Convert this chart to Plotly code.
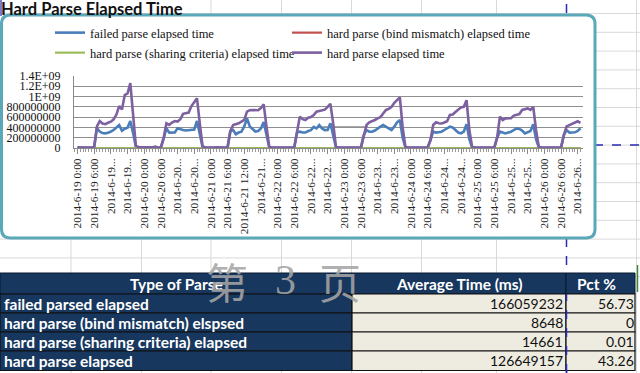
import plotly.graph_objects as go

# ---------------- data ----------------
series_names = [
    "failed parse elapsed time",
    "hard parse (bind mismatch) elapsed time",
    "hard parse (sharing criteria) elapsed time",
    "hard parse elapsed time",
]

tick_labels = [
    "2014-6-19 0:00", "2014-6-19 6:00", "2014-6-19...", "2014-6-19...",
    "2014-6-20 0:00", "2014-6-20 6:00", "2014-6-20...", "2014-6-20...",
    "2014-6-21 0:00", "2014-6-21 6:00", "2014-6-21 12:00", "2014-6-21...",
    "2014-6-22 0:00", "2014-6-22 6:00", "2014-6-22...", "2014-6-22...",
    "2014-6-23 0:00", "2014-6-23 6:00", "2014-6-23...", "2014-6-23...",
    "2014-6-24 0:00", "2014-6-24 6:00", "2014-6-24...", "2014-6-24...",
    "2014-6-25 0:00", "2014-6-25 6:00", "2014-6-25...", "2014-6-25...",
    "2014-6-26 0:00", "2014-6-26 6:00", "2014-6-26...",
]
tick_hours = [0, 6, 12, 18, 24, 30, 36, 42, 48, 54, 60, 66, 72, 78, 84, 90,
              96, 102, 108, 114, 120, 126, 132, 138, 144, 150, 156, 162,
              168, 174, 180]

y_tick_vals = [0, 200000000, 400000000, 600000000, 800000000, 1000000000,
               1200000000, 1400000000]
y_tick_text = ["0", "200000000", "400000000", "600000000", "800000000",
               "1E+09", "1.2E+09", "1.4E+09"]

# hourly values, millions (hours 0..23 of each day; 6-26 ends at 13:00)
failed_0619 = [6, 4, 3, 4, 5, 4, 12, 390, 320, 290, 285, 295, 320, 350, 400, 445, 335, 375, 395, 525, 290, 25, 8, 6]
failed_0620 = [7, 5, 4, 6, 12, 5, 6, 180, 383, 298, 295, 300, 383, 360, 350, 340, 345, 350, 360, 525, 260, 18, 7, 5]
failed_0621 = [5, 4, 6, 5, 4, 5, 8, 330, 350, 268, 300, 317, 420, 577, 420, 360, 320, 330, 380, 505, 240, 12, 6, 5]
failed_0622 = [5, 4, 5, 6, 4, 5, 7, 300, 317, 300, 300, 330, 347, 410, 380, 445, 380, 347, 350, 480, 260, 12, 6, 5]
failed_0623 = [5, 4, 4, 6, 5, 4, 7, 250, 350, 317, 317, 340, 383, 415, 447, 415, 383, 350, 415, 500, 545, 200, 10, 6]
failed_0624 = [5, 4, 4, 5, 4, 5, 6, 150, 317, 300, 310, 317, 350, 383, 415, 400, 350, 300, 285, 320, 460, 170, 10, 6]
failed_0625 = [5, 4, 4, 5, 6, 4, 6, 200, 317, 300, 284, 300, 317, 350, 380, 370, 340, 284, 300, 330, 460, 170, 10, 6]
failed_0626 = [5, 4, 4, 5, 4, 4, 6, 250, 350, 300, 300, 305, 330, 383]

hard_0619 = [12, 8, 6, 7, 9, 8, 20, 420, 525, 475, 462, 490, 512, 558, 650, 815, 750, 1030, 1060, 1260, 700, 40, 18, 14]
hard_0620 = [15, 10, 8, 12, 25, 10, 12, 200, 480, 450, 495, 525, 515, 560, 665, 675, 690, 815, 880, 965, 480, 30, 15, 10]
hard_0621 = [10, 8, 12, 9, 8, 10, 15, 330, 447, 460, 480, 512, 545, 706, 735, 739, 730, 735, 775, 850, 420, 20, 12, 10]
hard_0622 = [9, 8, 10, 12, 8, 9, 14, 300, 610, 560, 545, 590, 600, 642, 706, 720, 730, 745, 800, 860, 480, 20, 12, 10]
hard_0623 = [10, 9, 8, 12, 10, 9, 13, 250, 447, 500, 520, 545, 577, 600, 670, 740, 760, 800, 880, 930, 985, 400, 20, 12]
hard_0624 = [10, 9, 8, 11, 9, 10, 12, 150, 447, 500, 480, 477, 495, 520, 642, 650, 700, 740, 790, 800, 930, 350, 20, 12]
hard_0625 = [10, 9, 8, 10, 12, 9, 12, 200, 610, 545, 577, 577, 580, 630, 645, 660, 740, 760, 770, 740, 800, 350, 20, 12]
hard_0626 = [10, 9, 8, 10, 9, 8, 12, 250, 420, 447, 470, 500, 520, 490]

# tiny series (raw units)
bind_0619 = [0, 0, 0, 0, 0, 0, 0, 9000, 12000, 8000, 10000, 11000, 9000, 8000, 10000, 12000, 9000, 11000, 10000, 13000, 6000, 0, 0, 0]
bind_0620 = [0, 0, 0, 0, 0, 0, 0, 7000, 11000, 9000, 9000, 10000, 8000, 9000, 11000, 10000, 9000, 12000, 10000, 12000, 5000, 0, 0, 0]
bind_0621 = [0, 0, 0, 0, 0, 0, 0, 8000, 10000, 9000, 8000, 9000, 10000, 12000, 11000, 9000, 8000, 9000, 10000, 11000, 5000, 0, 0, 0]
bind_0622 = [0, 0, 0, 0, 0, 0, 0, 8000, 12000, 10000, 9000, 10000, 9000, 10000, 11000, 12000, 10000, 9000, 10000, 11000, 6000, 0, 0, 0]
bind_0623 = [0, 0, 0, 0, 0, 0, 0, 7000, 10000, 9000, 9000, 10000, 10000, 11000, 12000, 11000, 10000, 9000, 11000, 12000, 12000, 5000, 0, 0]
bind_0624 = [0, 0, 0, 0, 0, 0, 0, 5000, 9000, 9000, 9000, 9000, 10000, 10000, 11000, 11000, 10000, 9000, 9000, 9000, 11000, 5000, 0, 0]
bind_0625 = [0, 0, 0, 0, 0, 0, 0, 6000, 10000, 9000, 8000, 9000, 9000, 10000, 10000, 10000, 9000, 8000, 9000, 9000, 11000, 5000, 0, 0]
bind_0626 = [0, 0, 0, 0, 0, 0, 0, 7000, 10000, 9000, 9000, 9000, 10000, 11000]

share_0619 = [0, 0, 0, 0, 0, 0, 0, 15000, 20000, 14000, 16000, 18000, 15000, 14000, 17000, 20000, 15000, 18000, 17000, 21000, 10000, 0, 0, 0]
share_0620 = [0, 0, 0, 0, 0, 0, 0, 12000, 18000, 15000, 15000, 17000, 14000, 15000, 18000, 17000, 15000, 20000, 17000, 20000, 9000, 0, 0, 0]
share_0621 = [0, 0, 0, 0, 0, 0, 0, 13000, 17000, 15000, 14000, 15000, 17000, 20000, 18000, 15000, 14000, 15000, 17000, 18000, 9000, 0, 0, 0]
share_0622 = [0, 0, 0, 0, 0, 0, 0, 13000, 20000, 17000, 15000, 17000, 15000, 17000, 18000, 20000, 17000, 15000, 17000, 18000, 10000, 0, 0, 0]
share_0623 = [0, 0, 0, 0, 0, 0, 0, 12000, 17000, 15000, 15000, 17000, 17000, 18000, 20000, 18000, 17000, 15000, 18000, 20000, 20000, 8000, 0, 0]
share_0624 = [0, 0, 0, 0, 0, 0, 0, 9000, 15000, 15000, 15000, 15000, 17000, 17000, 18000, 18000, 17000, 15000, 15000, 15000, 18000, 8000, 0, 0]
share_0625 = [0, 0, 0, 0, 0, 0, 0, 10000, 17000, 15000, 14000, 15000, 15000, 17000, 17000, 17000, 15000, 14000, 15000, 15000, 18000, 8000, 0, 0]
share_0626 = [0, 0, 0, 0, 0, 0, 0, 12000, 17000, 15000, 15000, 15000, 17000, 18000]

table_headers = ["Type of Parse", "Average Time (ms)", "Pct %"]
table_types = ["failed parsed elapsed", "hard parse (bind mismatch) elspsed",
               "hard parse (sharing criteria) elapsed", "hard parse elapsed"]
table_avg = ["166059232", "8648", "14661", "126649157"]
table_pct = ["56.73", "0", "0.01", "43.26"]

sheet_title = "Hard Parse Elapsed Time"
watermark = ["第", "3", "页"]

# ---------------- assemble ----------------
failed = [v * 1e6 for d in (failed_0619, failed_0620, failed_0621, failed_0622,
                            failed_0623, failed_0624, failed_0625, failed_0626) for v in d]
hard = [v * 1e6 for d in (hard_0619, hard_0620, hard_0621, hard_0622,
                          hard_0623, hard_0624, hard_0625, hard_0626) for v in d]
bind = [v for d in (bind_0619, bind_0620, bind_0621, bind_0622,
                    bind_0623, bind_0624, bind_0625, bind_0626) for v in d]
share = [v for d in (share_0619, share_0620, share_0621, share_0622,
                     share_0623, share_0624, share_0625, share_0626) for v in d]
hours = list(range(len(hard)))

W, H = 640, 373


def px(x):
    return x / W


def py(y):
    return 1 - y / H


colors = ["#4a7ebb", "#c0504d", "#9bbb59", "#7d60a0"]
legend_ids = ["legend", "legend2", "legend3", "legend4"]
fig = go.Figure()
for name, ys, c, w, lg in zip(series_names, [failed, bind, share, hard], colors,
                              [2.6, 2.2, 2.2, 2.6], legend_ids):
    fig.add_trace(go.Scatter(x=hours, y=ys, name=name, mode="lines", legend=lg,
                             line=dict(color=c, width=w)))

# ---------------- spreadsheet decorations ----------------
shapes = []
for k in range(15):
    yy = 13.5 + 18.8 * k
    shapes.append(dict(type="line", xref="paper", yref="paper", x0=0, x1=1,
                       y0=py(yy), y1=py(yy), line=dict(color="#d9d9d9", width=1),
                       layer="below"))
for xx in [71, 141.5, 211, 281.5, 351.5, 421.5, 496.5, 636.5]:
    top = 14 if xx < 200 else 0
    shapes.append(dict(type="line", xref="paper", yref="paper", x0=px(xx), x1=px(xx),
                       y0=0, y1=py(top), line=dict(color="#d9d9d9", width=1), layer="below"))
PB = "#2a2ab5"
shapes.append(dict(type="line", xref="paper", yref="paper", x0=px(566.5), x1=px(566.5),
                   y0=0, y1=1, line=dict(color=PB, width=1.5, dash="dash"), layer="below"))
shapes.append(dict(type="line", xref="paper", yref="paper", x0=0, x1=1,
                   y0=py(145), y1=py(145), line=dict(color=PB, width=1.5, dash="dash"),
                   layer="below"))
shapes.append(dict(type="line", xref="paper", yref="paper", x0=px(1), x1=px(1),
                   y0=py(0), y1=py(16), line=dict(color="#5050c0", width=1.5), layer="below"))

# rounded chart frame
x0, x1, y0, y1, r = 1.5, 595, 15, 238, 9
path = ("M{a},{b} L{c},{b} Q{d},{b} {d},{e} L{d},{f} Q{d},{g} {c},{g} "
        "L{a},{g} Q{h},{g} {h},{f} L{h},{e} Q{h},{b} {a},{b} Z").format(
    a=px(x0 + r), b=py(y0), c=px(x1 - r), d=px(x1), e=py(y0 + r), f=py(y1 - r),
    g=py(y1), h=px(x0))
shapes.append(dict(type="path", xref="paper", yref="paper", path=path,
                   fillcolor="white", line=dict(color="#5ba8b8", width=3), layer="below"))
shapes.append(dict(type="line", xref="paper", yref="paper", x0=px(322), x1=px(368),
                   y0=py(127), y1=py(127), line=dict(color="#555555", width=1),
                   layer="between"))

# ---------------- table (cells as rectangles, text as annotations) ----------------
NAVY = "#17375e"
BEIGE = "#eeece1"
col_edges = [0, 352, 566, 635]
row_edges = [273, 294, 313, 332, 351, 370.5]
annotations = []
for ci in range(3):
    shapes.append(dict(type="rect", xref="paper", yref="paper",
                       x0=px(col_edges[ci]), x1=px(col_edges[ci + 1]),
                       y0=py(row_edges[1]), y1=py(row_edges[0]),
                       fillcolor=NAVY, line=dict(color="#0b1b30", width=1), layer="above"))
    annotations.append(dict(text="<b>%s</b>" % table_headers[ci], xref="paper", yref="paper",
                            x=px((col_edges[ci] + col_edges[ci + 1]) / 2 - (4 if ci == 2 else 0)),
                            y=py((row_edges[0] + row_edges[1]) / 2),
                            xanchor="center", yanchor="middle", showarrow=False,
                            font=dict(family="Lato", size=15.5, color="white")))
for ri in range(4):
    ya, yb = row_edges[ri + 1], row_edges[ri + 2]
    yc = py((ya + yb) / 2)
    for ci, fill in enumerate([NAVY, BEIGE, BEIGE]):
        shapes.append(dict(type="rect", xref="paper", yref="paper",
                           x0=px(col_edges[ci]), x1=px(col_edges[ci + 1]),
                           y0=py(yb), y1=py(ya), fillcolor=fill,
                           line=dict(color="#111111", width=1.2), layer="above"))
    annotations.append(dict(text="<b>%s</b>" % table_types[ri], xref="paper", yref="paper",
                            x=px(2), y=yc, xanchor="left", yanchor="middle", showarrow=False,
                            font=dict(family="Lato", size=15.5, color="white")))
    annotations.append(dict(text=table_avg[ri], xref="paper", yref="paper",
                            x=px(565), y=yc, xanchor="right", yanchor="middle", showarrow=False,
                            font=dict(family="Lato", size=14, color="#111111")))
    annotations.append(dict(text=table_pct[ri], xref="paper", yref="paper",
                            x=px(636), y=yc, xanchor="right", yanchor="middle", showarrow=False,
                            font=dict(family="Lato", size=14, color="#111111")))

shapes.append(dict(type="line", xref="paper", yref="paper", x0=px(566.5), x1=px(566.5),
                   y0=py(373), y1=py(294), line=dict(color=PB, width=1.5, dash="dash"),
                   layer="above"))
shapes.append(dict(type="line", xref="paper", yref="paper", x0=px(637.5), x1=px(637.5),
                   y0=py(292), y1=py(265), line=dict(color="#3a8a3a", width=1.5),
                   layer="above"))

wm_x = [227, 285, 340]
wm_fonts = ["Noto Sans CJK SC", "Liberation Serif", "Noto Sans CJK SC"]
annotations.append(dict(text="<b>%s</b>" % sheet_title, xref="paper", yref="paper",
                        x=px(0), y=py(-2), xanchor="left", yanchor="top", showarrow=False,
                        borderpad=0,
                        font=dict(family="Lato", size=16.5, color="#111111")))
for ch, xx, fam in zip(watermark, wm_x, wm_fonts):
    annotations.append(dict(text=ch, xref="paper", yref="paper", x=px(xx), y=py(280),
                            xanchor="center", yanchor="middle", showarrow=False,
                            font=dict(family=fam, size=42, color="rgba(165,165,165,0.9)")))

leg_common = dict(orientation="h", xanchor="left", yanchor="top", bgcolor="rgba(0,0,0,0)",
                  font=dict(family="Liberation Serif", size=12.5, color="#111111"),
                  itemclick=False, itemdoubleclick=False)

fig.update_layout(
    template="none",
    width=W, height=H, autosize=False,
    margin=dict(l=0, r=0, t=0, b=0, pad=0),
    paper_bgcolor="white", plot_bgcolor="rgba(0,0,0,0)",
    shapes=shapes, annotations=annotations,
    showlegend=True,
    legend=dict(x=px(50), y=py(18), **leg_common),
    legend2=dict(x=px(287), y=py(18), **leg_common),
    legend3=dict(x=px(50), y=py(38), **leg_common),
    legend4=dict(x=px(287), y=py(38), **leg_common),
    xaxis=dict(domain=[px(74), px(583)], range=[-1.26, 181.9], showgrid=False,
               automargin=False,
               tickmode="array", tickvals=tick_hours, ticktext=tick_labels,
               tickangle=-90, ticks="outside", ticklen=5, tickcolor="#8a8a8a",
               showline=True, linecolor="#8a8a8a", zeroline=False,
               minor=dict(dtick=1, tick0=0, ticks="outside", ticklen=3, tickcolor="#9a9a9a"),
               tickfont=dict(family="Liberation Serif", size=11.3, color="#222222")),
    yaxis=dict(domain=[py(148), py(76)], range=[0, 1.4e9], tickmode="array",
               automargin=False,
               tickvals=y_tick_vals, ticktext=y_tick_text, showgrid=True,
               gridcolor="#8f8f8f", gridwidth=1, showline=True, linecolor="#8a8a8a",
               zeroline=False, ticks="outside", ticklen=10, tickcolor="rgba(0,0,0,0)",
               tickfont=dict(family="Liberation Serif", size=12, color="#111111")),
)

fig.write_html("out.html",
               config={"displayModeBar": False, "responsive": False},
               post_script="document.body.style.margin='0px';"
                           "document.documentElement.style.overflow='hidden';")
